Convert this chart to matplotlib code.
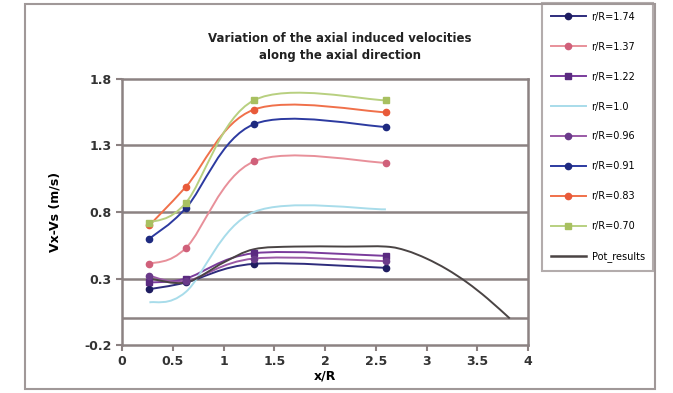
import matplotlib.pyplot as plt
import numpy as np
from matplotlib.path import Path
from matplotlib.patches import PathPatch, Rectangle

# measurement stations along the axis (x/R)
x_pts = [0.27, 0.63, 1.3, 2.6]

labels = ["r/R=1.74", "r/R=1.37", "r/R=1.22", "r/R=1.0", "r/R=0.96",
          "r/R=0.91", "r/R=0.83", "r/R=0.70"]
v_174 = [0.22, 0.27, 0.41, 0.38]
v_137 = [0.41, 0.53, 1.18, 1.17]
v_122 = [0.27, 0.30, 0.49, 0.47]
v_100 = [0.12, 0.20, 0.80, 0.82]
v_096 = [0.32, 0.28, 0.45, 0.43]
v_091 = [0.60, 0.83, 1.46, 1.44]
v_083 = [0.70, 0.99, 1.57, 1.55]
v_070 = [0.72, 0.87, 1.64, 1.64]
series = [v_174, v_137, v_122, v_100, v_096, v_091, v_083, v_070]

# potential theory result
pot_x = [0.27, 0.63, 1.0, 1.3, 1.7, 2.2, 2.6, 2.8, 3.0, 3.2, 3.4, 3.6, 3.82]
pot_v = [0.30, 0.27, 0.42, 0.52, 0.54, 0.54, 0.54, 0.51, 0.45, 0.37, 0.27, 0.15, 0.0]

line_cols = ["#2e2c7c", "#e8909a", "#7a3c9c", "#a8dcea", "#9a5aa6",
             "#2c3aa0", "#f0704a", "#b8d080"]
mark_cols = ["#1e1c60", "#d0607a", "#5a2a80", "#a8dcea", "#6a3a8a",
             "#1e2a80", "#e85a3a", "#a8c060"]
markers = ["o", "o", "s", None, "o", "o", "o", "s"]
grid_col = "#8c8282"


def smooth_path(xs, ys):
    # Excel style smoothed line: cubic Bezier segments through the points
    pts = list(zip(xs, ys))
    verts = [pts[0]]
    codes = [Path.MOVETO]
    n = len(pts)
    for i in range(n - 1):
        p0 = pts[max(i - 1, 0)]
        p1 = pts[i]
        p2 = pts[i + 1]
        p3 = pts[min(i + 2, n - 1)]
        c1 = (p1[0] + (p2[0] - p0[0]) / 6, p1[1] + (p2[1] - p0[1]) / 6)
        c2 = (p2[0] - (p3[0] - p1[0]) / 6, p2[1] - (p3[1] - p1[1]) / 6)
        verts += [c1, c2, p2]
        codes += [Path.CURVE4] * 3
    return Path(verts, codes)


fig = plt.figure(figsize=(6.73, 3.93), dpi=100)
fig.patches.append(Rectangle((25 / 673, 4 / 393), 630 / 673, 385 / 393,
                             transform=fig.transFigure, fill=False,
                             edgecolor="#a09898", lw=1.5))
ax = fig.add_axes([122 / 673, 48 / 393, 406 / 673, 266 / 393])

for vals, lc, mc, m, lab in zip(series, line_cols, mark_cols, markers, labels):
    ax.add_patch(PathPatch(smooth_path(x_pts, vals), fill=False,
                           edgecolor=lc, lw=1.4, zorder=3))
    ax.plot(x_pts, vals, linestyle="none", marker=m, color=mc, ms=4.5, zorder=4)
    ax.plot([], [], color=lc, marker=m, mfc=mc, mec=mc, ms=4.5, lw=1.4, label=lab)

ax.add_patch(PathPatch(smooth_path(pot_x, pot_v), fill=False,
                       edgecolor="#4a4444", lw=1.4, zorder=3))
ax.plot([], [], color="#4a4444", lw=1.8, label="Pot_results")

ax.set_xlim(0, 4)
ax.set_ylim(-0.2, 1.8)
ax.set_xticks([0, 0.5, 1, 1.5, 2, 2.5, 3, 3.5, 4])
ax.set_xticklabels(["0", "0.5", "1", "1.5", "2", "2.5", "3", "3.5", "4"])
ax.set_yticks([-0.2, 0.3, 0.8, 1.3, 1.8])
ax.set_yticklabels(["-0.2", "0.3", "0.8", "1.3", "1.8"])
for yv in [0.0, 0.3, 0.8, 1.3]:
    ax.axhline(yv, color=grid_col, lw=1.8, zorder=2)
for s in ax.spines.values():
    s.set_color(grid_col)
    s.set_linewidth(1.8)
ax.tick_params(colors="#333333", labelsize=9, width=1.5, length=4,
               color=grid_col)
for t in ax.get_xticklabels() + ax.get_yticklabels():
    t.set_fontweight("bold")

ax.set_xlabel("x/R", fontsize=9, fontweight="bold", labelpad=1)
ax.set_ylabel("Vx-Vs (m/s)", fontsize=9, fontweight="bold", labelpad=16)
fig.text(340 / 673, 1 - 47 / 393,
         "Variation of the axial induced velocities\nalong the axial direction",
         ha="center", va="center", fontsize=8.5, fontweight="bold",
         color="#222222", linespacing=1.3)

leg = ax.legend(loc="upper left", bbox_to_anchor=(542 / 673, 1 - 3 / 393),
                bbox_transform=fig.transFigure, fontsize=7, frameon=True,
                fancybox=False, edgecolor="#a09898", labelspacing=2.05,
                handlelength=3.6, handletextpad=0.6, borderpad=0.9,
                borderaxespad=0)
leg.get_frame().set_linewidth(1.5)

fig.savefig("out.png", dpi=100)
